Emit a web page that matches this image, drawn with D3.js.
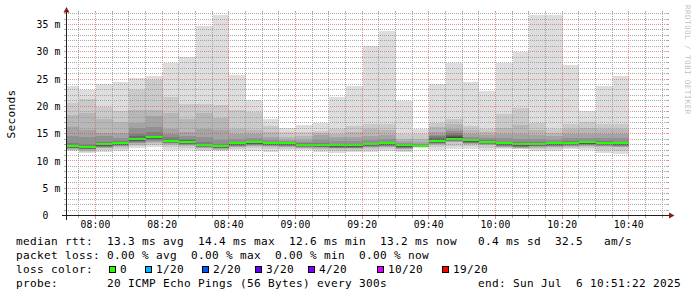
<!DOCTYPE html>
<html><head><meta charset="utf-8">
<script src="https://cdn.jsdelivr.net/npm/d3@7"></script>
<style>
html,body{margin:0;padding:0;background:#fff;}
svg{display:block;}
text{font-family:"DejaVu Sans Mono",monospace;white-space:pre;}
</style></head><body>
<svg id="chart" width="697" height="297"></svg>
<script>
// ---------- data ----------
const startTime = "07:51:22";
const endTime = "10:51:22";
const barTimes = ["07:55","08:00","08:05","08:10","08:15","08:20","08:25","08:30","08:35","08:40","08:45","08:50",
  "08:55","09:00","09:05","09:10","09:15","09:20","09:25","09:30","09:35","09:40","09:45","09:50","09:55",
  "10:00","10:05","10:10","10:15","10:20","10:25","10:30","10:35","10:40"];
const medians = [12.76,12.58,13.04,13.25,13.98,14.35,13.7,13.44,12.98,12.76,13.2,13.4,13.25,13.2,13.0,12.95,12.86,
  12.86,13.07,13.2,12.83,12.7,13.65,14.1,13.77,13.56,13.2,13.04,13.13,13.2,13.28,13.4,13.28,13.2];
// 20 sorted ping RTTs (ms) per 5-minute step
const pingRows = [
 [11.85,11.95,12.06,12.18,12.28,12.36,12.44,12.52,12.6,12.68, 12.79,12.83,12.88,12.96,13.3,14.5,16.3,18.4,20.6,23.8],
 [11.5,11.7,11.88,12.0,12.1,12.18,12.26,12.34,12.42,12.5, 12.61,12.65,12.7,12.78,13.1,14.4,15.6,18.8,21.4,23.0],
 [11.7,12.0,12.34,12.46,12.56,12.64,12.72,12.8,12.88,12.96, 13.07,13.11,13.16,13.24,13.5,14.5,15.2,17.6,19.8,24.1],
 [11.9,12.2,12.55,12.67,12.77,12.85,12.93,13.01,13.09,13.17, 13.28,13.32,13.37,13.45,13.6,14.2,15.2,17.1,19.2,24.4],
 [12.3,12.7,13.0,13.2,13.35,13.5,13.6,13.7,13.8,13.9, 14.02,14.1,14.25,14.5,15.0,16.0,17.0,19.3,23.0,25.2],
 [12.5,12.9,13.2,13.5,13.7,13.85,13.95,14.05,14.15,14.25, 14.38,14.42,14.5,14.6,15.3,16.2,18.2,19.4,24.9,25.6],
 [12.0,12.5,12.9,13.1,13.22,13.32,13.4,13.48,13.56,13.63, 13.74,13.8,13.9,14.0,14.4,15.0,15.9,18.7,21.7,28.0],
 [12.0,12.4,12.74,12.86,12.96,13.04,13.12,13.2,13.28,13.36, 13.47,13.53,13.62,13.75,14.1,14.6,15.3,17.6,20.5,29.1],
 [11.8,12.04,12.28,12.4,12.5,12.58,12.66,12.74,12.82,12.9, 13.01,13.05,13.1,13.18,13.4,14.3,15.9,18.7,20.5,34.7],
 [11.85,11.95,12.06,12.18,12.28,12.36,12.44,12.52,12.6,12.68, 12.79,12.83,12.88,12.96,13.1,13.8,15.6,17.9,20.2,36.8],
 [12.0,12.25,12.5,12.62,12.72,12.8,12.88,12.96,13.04,13.12, 13.23,13.27,13.32,13.4,13.5,14.0,15.0,15.9,19.3,25.8],
 [11.85,12.28,12.7,12.82,12.92,13.0,13.08,13.16,13.24,13.32, 13.43,13.47,13.52,13.6,13.7,14.2,15.0,15.6,19.0,21.2],
 [11.7,12.1,12.55,12.67,12.77,12.85,12.93,13.01,13.09,13.17, 13.28,13.32,13.37,13.45,13.55,13.9,14.4,15.3,16.4,17.7],
 [12.0,12.25,12.5,12.62,12.72,12.8,12.88,12.96,13.04,13.12, 13.23,13.27,13.3,13.35,13.4,13.6,13.9,14.4,15.3,16.0],
 [12.0,12.15,12.3,12.42,12.52,12.6,12.68,12.76,12.84,12.92, 13.03,13.07,13.11,13.17,13.25,13.5,13.9,14.5,15.3,16.6],
 [11.7,12.0,12.25,12.37,12.47,12.55,12.63,12.71,12.79,12.87, 12.98,13.02,13.07,13.15,13.3,13.8,14.7,15.1,15.4,17.0],
 [11.5,11.83,12.16,12.28,12.38,12.46,12.54,12.62,12.7,12.78, 12.89,12.93,12.98,13.05,13.15,13.6,14.3,15.0,15.9,21.8],
 [11.6,11.88,12.16,12.28,12.38,12.46,12.54,12.62,12.7,12.78, 12.89,12.93,12.98,13.05,13.15,13.6,14.4,15.3,16.4,23.8],
 [11.7,12.03,12.37,12.49,12.59,12.67,12.75,12.83,12.91,12.99, 13.1,13.14,13.19,13.27,13.35,13.8,14.5,15.9,16.7,31.0],
 [11.9,12.2,12.5,12.62,12.72,12.8,12.88,12.96,13.04,13.12, 13.23,13.27,13.32,13.4,13.5,14.0,14.8,15.6,16.8,33.9],
 [11.7,11.9,12.13,12.25,12.35,12.43,12.51,12.59,12.67,12.75, 12.86,12.9,12.94,12.99,13.05,13.3,13.6,14.1,15.0,21.0],
 [12.45,12.48,12.51,12.54,12.57,12.6,12.62,12.64,12.66,12.68, 12.72,12.75,12.79,12.85,12.92,13.15,13.5,14.1,15.0,15.8],
 [12.0,12.5,12.95,13.07,13.17,13.25,13.33,13.41,13.49,13.57, 13.7,13.85,14.0,14.2,14.5,14.8,15.3,16.2,17.0,24.1],
 [12.2,12.8,13.4,13.52,13.62,13.7,13.78,13.86,13.94,14.02, 14.15,14.3,14.5,14.8,15.1,15.4,15.9,16.8,17.6,27.9],
 [12.2,12.65,13.07,13.19,13.29,13.37,13.45,13.53,13.61,13.69, 13.8,13.84,13.89,13.95,14.0,14.4,15.0,15.6,16.4,24.4],
 [12.0,12.43,12.86,12.98,13.08,13.16,13.24,13.32,13.4,13.48, 13.59,13.63,13.68,13.74,13.8,14.2,14.8,15.3,15.9,22.9],
 [12.15,12.33,12.5,12.62,12.72,12.8,12.88,12.96,13.04,13.12, 13.23,13.27,13.32,13.4,13.5,14.2,15.0,16.0,18.6,27.9],
 [12.1,12.22,12.34,12.46,12.56,12.64,12.72,12.8,12.88,12.96, 13.07,13.11,13.16,13.24,13.4,14.1,15.0,16.5,19.7,30.0],
 [11.8,12.12,12.43,12.55,12.65,12.73,12.81,12.89,12.97,13.05, 13.16,13.2,13.25,13.33,13.45,14.0,14.8,15.6,17.0,36.8],
 [11.85,12.18,12.5,12.62,12.72,12.8,12.88,12.96,13.04,13.12, 13.23,13.27,13.32,13.4,13.5,13.9,14.6,15.2,15.9,36.8],
 [12.15,12.37,12.58,12.7,12.8,12.88,12.96,13.04,13.12,13.2, 13.31,13.35,13.4,13.48,13.6,14.2,15.0,15.8,16.8,27.5],
 [12.0,12.35,12.7,12.82,12.92,13.0,13.08,13.16,13.24,13.32, 13.43,13.47,13.52,13.6,13.7,14.2,15.0,16.0,17.2,19.2],
 [11.5,12.04,12.58,12.7,12.8,12.88,12.96,13.04,13.12,13.2, 13.31,13.35,13.4,13.48,13.6,14.2,15.0,15.8,16.7,23.8],
 [11.3,11.9,12.5,12.62,12.72,12.8,12.88,12.96,13.04,13.12, 13.23,13.27,13.32,13.4,13.5,14.2,15.0,15.8,16.7,25.6]
];
const yTickValues = [0,5,10,15,20,25,30,35];
const yUnit = "m";
const xTickLabels = ["08:00","08:20","08:40","09:00","09:20","09:40","10:00","10:20","10:40"];
const lossLabels = ["0","1/20","2/20","3/20","4/20","10/20","19/20"];
const lossColors = ["#26ff00","#00b8ff","#0059ff","#5e00ff","#7e00ff","#dd00ff","#ff0000"];
const legendLines = [
  "median rtt:  13.3 ms avg  14.4 ms max  12.6 ms min  13.2 ms now   0.4 ms sd  32.5   am/s",
  "packet loss: 0.00 % avg  0.00 % max  0.00 % min  0.00 % now",
  "loss color:",
  "probe:       20 ICMP Echo Pings (56 Bytes) every 300s"
];
const endLabel = "end: Sun Jul  6 10:51:22 2025";
const yAxisTitle = "Seconds";
const watermark = "RRDTOOL / TOBI OETIKER";

// ---------- layout ----------
const PLOT_L = 67, PLOT_R = 667, PLOT_B = 215, PLOT_T = 13;
const GRID = "rgba(143,143,143,0.75)", MGRID = "rgba(222,79,79,0.6)";
const AXIS = "rgb(31,31,31)", ARROW = "rgb(128,31,31)";
const LEG = {size: "11.1px", ls: "0.32px"}, AX = {size: "9.72px", ls: "0.15px"};

const parseT = d3.timeParse("%H:%M:%S"), parseHM = d3.timeParse("%H:%M");
const t0 = parseT(startTime), t1 = parseT(endTime);
const x = d3.scaleTime().domain([t0, t1]).range([66.7, 666.7]);
const y = d3.scaleLinear().domain([0, 37]).range([215.5, 13.6]);
const yMax = y.domain()[1];
const smokeColor = i => { const g = Math.floor(190 / 10 * (10 - i)) + 50; return d3.rgb(g, g, g).formatHex(); };

const svg = d3.select("#chart").attr("shape-rendering", "crispEdges");
svg.append("rect").attr("width", 697).attr("height", 297).attr("fill", "#fff");

// dotted grid patterns (1 px on, 1 px off)
const defs = svg.append("defs");
[["hMin", GRID, 2, 1], ["hMaj", MGRID, 2, 1], ["vMin", GRID, 1, 2], ["vMaj", MGRID, 1, 2]].forEach(([id, c, w, h]) => {
  defs.append("pattern").attr("id", id).attr("patternUnits", "userSpaceOnUse")
    .attr("width", w).attr("height", h)
    .append("rect").attr("width", 1).attr("height", 1).attr("fill", c);
});

// ---------- smoke + medians ----------
const gBars = svg.append("g");
barTimes.forEach((bt, j) => {
  const tEnd = parseHM(bt), tStart = d3.timeMinute.offset(tEnd, -5);
  const xl = Math.max(PLOT_L, Math.floor(x(tStart)) + 1);
  const xr = Math.floor(x(tEnd)) + 1;
  const p = pingRows[j].map(v => Math.min(v, yMax));
  for (let i = 1; i <= 10; i++) {
    const lo = p[i - 1], hi = p[20 - i];
    const yt = Math.round(y(hi)), yb = Math.round(y(lo));
    if (yb > yt) gBars.append("rect").attr("x", xl).attr("y", yt).attr("width", xr - xl)
      .attr("height", yb - yt).attr("fill", smokeColor(i));
  }
  const ym = Math.round(y(medians[j]));
  gBars.append("rect").attr("x", xl).attr("y", ym - 1).attr("width", xr - xl).attr("height", 2)
    .attr("fill", lossColors[0]);
});

// ---------- grid (on top, like rrdtool) ----------
const gGrid = svg.append("g");
d3.range(1, Math.floor(yMax) + 1).forEach(v => {
  const major = v % 5 === 0, c = major ? MGRID : GRID, row = Math.floor(y(v));
  gGrid.append("rect").attr("x", PLOT_L).attr("y", row).attr("width", PLOT_R - PLOT_L).attr("height", 1)
    .attr("fill", `url(#${major ? "hMaj" : "hMin"})`);
  gGrid.append("rect").attr("x", PLOT_L - 3).attr("y", row).attr("width", 2).attr("height", 1).attr("fill", c);
  gGrid.append("rect").attr("x", PLOT_R).attr("y", row).attr("width", 2).attr("height", 1).attr("fill", c);
});
d3.timeMinute.every(5).range(t0, t1).forEach(t => {
  const major = t.getMinutes() % 20 === 0, c = major ? MGRID : GRID, col = Math.floor(x(t));
  gGrid.append("rect").attr("x", col).attr("y", PLOT_T).attr("width", 1).attr("height", PLOT_B - PLOT_T)
    .attr("fill", `url(#${major ? "vMaj" : "vMin"})`);
  gGrid.append("rect").attr("x", col).attr("y", PLOT_B + 1).attr("width", 1).attr("height", major ? 3 : 2).attr("fill", c);
  gGrid.append("rect").attr("x", col).attr("y", PLOT_T - 2).attr("width", 1).attr("height", 2).attr("fill", c);
});

// ---------- axes ----------
const gAx = svg.append("g");
gAx.append("rect").attr("x", 62).attr("y", 215).attr("width", 609).attr("height", 1).attr("fill", AXIS);
gAx.append("rect").attr("x", 66).attr("y", 10).attr("width", 1).attr("height", 210).attr("fill", AXIS);
svg.append("path").attr("shape-rendering", "auto").attr("d", "M669,212.5L669,218.5L674.5,215.5Z").attr("fill", ARROW);
svg.append("path").attr("shape-rendering", "auto").attr("d", "M63.5,12.5L69.5,12.5L66.5,7Z").attr("fill", ARROW);

// tick labels
svg.append("g").selectAll("text").data(yTickValues).join("text")
  .attr("x", 60.5).attr("y", d => y(d) + 3.6).attr("text-anchor", "end")
  .style("font-size", AX.size).style("letter-spacing", AX.ls).attr("fill", "#000")
  .text(d => d === 0 ? "0  " : d + " " + yUnit);
svg.append("g").selectAll("text").data(xTickLabels).join("text")
  .attr("x", d => x(parseHM(d))).attr("y", 228).attr("text-anchor", "middle")
  .style("font-size", AX.size).style("letter-spacing", AX.ls).attr("fill", "#000")
  .text(d => d);

// axis title
svg.append("text").attr("transform", "translate(14.5,114) rotate(-90)").attr("text-anchor", "middle")
  .style("font-size", LEG.size).style("letter-spacing", LEG.ls).attr("fill", "#000").text(yAxisTitle);
// watermark
svg.append("text").attr("transform", "translate(685.2,5) rotate(90)")
  .style("font-size", "7.64px").style("letter-spacing", "0.4px").attr("fill", "rgba(0,0,0,0.3)").text(watermark);

// ---------- legend ----------
const legBase = [245, 259, 273, 287];
legendLines.forEach((s, i) => {
  svg.append("text").attr("x", 16).attr("y", legBase[i]).style("font-size", LEG.size)
    .style("letter-spacing", LEG.ls).attr("fill", "#000").text(s);
});
svg.append("text").attr("x", 478).attr("y", legBase[3]).style("font-size", LEG.size)
  .style("letter-spacing", LEG.ls).attr("fill", "#000").text(endLabel);
const boxX = [109, 145, 202, 255, 308, 377, 442];
lossLabels.forEach((l, i) => {
  svg.append("rect").attr("x", boxX[i]).attr("y", 266).attr("width", 7).attr("height", 7).attr("fill", "#000");
  svg.append("rect").attr("x", boxX[i] + 1).attr("y", 267).attr("width", 5).attr("height", 5).attr("fill", lossColors[i]);
  svg.append("text").attr("x", boxX[i] + 11).attr("y", legBase[2]).style("font-size", LEG.size)
    .style("letter-spacing", LEG.ls).attr("fill", "#000").text(l);
});
</script>
</body></html>
